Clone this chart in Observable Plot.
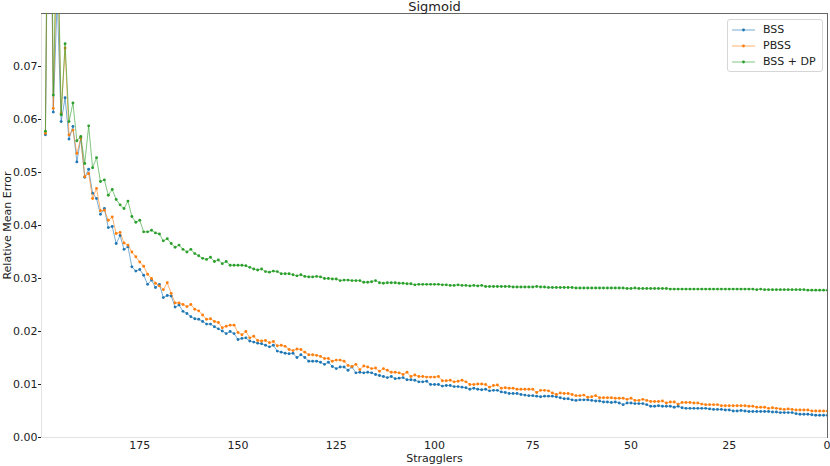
<!DOCTYPE html>
<html><head><meta charset="utf-8">
<script src="https://cdn.jsdelivr.net/npm/d3@7"></script>
<script src="https://cdn.jsdelivr.net/npm/@observablehq/plot@0.6"></script>
<style>
body{margin:0;background:#fff;font-family:"DejaVu Sans",sans-serif;}
#wrap{position:relative;width:830px;height:466px;}
#legend{position:absolute;left:727px;top:19px;width:96px;height:53px;border:1px solid #d6d6d6;border-radius:3px;background:rgba(255,255,255,0.85);font-size:11px;color:#222;box-sizing:border-box;}
.row{position:absolute;left:0;height:14px;width:96px;}
.row svg{position:absolute;left:3px;top:0;}
.row span{position:absolute;left:35px;top:0;line-height:14px;white-space:nowrap;}
</style></head><body><div id="wrap"></div>
<script>
const seriesNames = ["BSS", "PBSS", "BSS + DP"];
const colors = ["#1f77b4", "#ff7f0e", "#2ca02c"];
const stragglers = d3.range(199, -1, -1); // 199 ... 0
const xTicks = [175, 150, 125, 100, 75, 50, 25];
const xTickLast = [0];
const yTicks = [0, 0.01, 0.02, 0.03, 0.04, 0.05, 0.06, 0.07];

const bss = [
0.0571,0.130,0.0614,0.083,0.0596,0.0641,0.0563,0.0587,0.0520,0.0565,
0.0491,0.0506,0.0461,0.0451,0.0421,0.0432,0.0396,0.0398,0.0366,0.0381,
0.0355,0.0360,0.0322,0.0314,0.0317,0.0306,0.0289,0.0297,0.0283,0.0289,
0.0264,0.0268,0.0267,0.0246,0.0250,0.0238,0.0234,0.0228,0.0224,0.0223,
0.0219,0.0214,0.0214,0.0209,0.0205,0.0201,0.0196,0.0200,0.0196,0.0185,
0.0187,0.0188,0.0182,0.0180,0.0178,0.0177,0.0174,0.0171,0.0174,0.0163,
0.0161,0.0159,0.0158,0.0159,0.0151,0.0156,0.0151,0.0144,0.0144,0.0144,
0.0142,0.0138,0.0142,0.0134,0.0130,0.0133,0.0133,0.0127,0.0133,0.0122,
0.0123,0.0122,0.0123,0.0122,0.0119,0.0117,0.0115,0.0113,0.0115,0.0111,
0.0112,0.0113,0.0109,0.0109,0.0108,0.0105,0.0105,0.0106,0.0100,0.0100,
0.0100,0.0097,0.0098,0.0098,0.0096,0.0096,0.0095,0.0094,0.0091,0.0093,
0.0091,0.0090,0.0091,0.0088,0.0089,0.0089,0.0086,0.0085,0.0083,0.0083,
0.0083,0.0081,0.0080,0.0079,0.0079,0.0078,0.0077,0.0078,0.0078,0.0078,
0.0077,0.0075,0.0073,0.0073,0.0071,0.0070,0.0071,0.0071,0.0071,0.0070,
0.0069,0.0069,0.0067,0.0067,0.0066,0.0067,0.0065,0.0062,0.0065,0.0065,
0.0064,0.0064,0.0064,0.0062,0.0059,0.0059,0.0060,0.0059,0.0059,0.0059,
0.0057,0.0059,0.0056,0.0055,0.0055,0.0055,0.0055,0.0055,0.0055,0.0054,
0.0053,0.0053,0.0053,0.0052,0.0052,0.0050,0.0050,0.0051,0.0050,0.0049,
0.0049,0.0049,0.0049,0.0049,0.0049,0.0048,0.0048,0.0047,0.0047,0.0047,
0.0047,0.0045,0.0044,0.0044,0.0044,0.0043,0.0042,0.0042,0.0042,0.0042
];

const pbss = [
0.0574,0.140,0.0621,0.095,0.0611,0.0735,0.0571,0.0580,0.0536,0.0565,
0.0492,0.0498,0.0451,0.0470,0.0428,0.0429,0.0410,0.0416,0.0385,0.0387,
0.0367,0.0363,0.0350,0.0341,0.0331,0.0323,0.0308,0.0300,0.0291,0.0286,
0.0279,0.0292,0.0272,0.0254,0.0254,0.0251,0.0247,0.0251,0.0242,0.0239,
0.0231,0.0223,0.0224,0.0219,0.0217,0.0207,0.0210,0.0212,0.0212,0.0198,
0.0194,0.0200,0.0188,0.0191,0.0183,0.0182,0.0183,0.0179,0.0181,0.0173,
0.0174,0.0172,0.0166,0.0164,0.0167,0.0166,0.0161,0.0156,0.0156,0.0155,
0.0153,0.0149,0.0149,0.0144,0.0146,0.0146,0.0144,0.0136,0.0134,0.0138,
0.0128,0.0135,0.0133,0.0130,0.0131,0.0125,0.0130,0.0127,0.0123,0.0123,
0.0122,0.0119,0.0123,0.0115,0.0118,0.0115,0.0115,0.0114,0.0114,0.0114,
0.0115,0.0107,0.0107,0.0108,0.0105,0.0106,0.0108,0.0105,0.0100,0.0100,
0.0101,0.0101,0.0100,0.0095,0.0098,0.0099,0.0093,0.0094,0.0093,0.0093,
0.0091,0.0091,0.0091,0.0091,0.0091,0.0085,0.0089,0.0089,0.0088,0.0084,
0.0081,0.0084,0.0083,0.0083,0.0081,0.0079,0.0079,0.0080,0.0076,0.0077,
0.0079,0.0075,0.0075,0.0075,0.0075,0.0074,0.0074,0.0074,0.0072,0.0074,
0.0070,0.0070,0.0072,0.0070,0.0068,0.0068,0.0068,0.0069,0.0065,0.0067,
0.0067,0.0063,0.0066,0.0066,0.0066,0.0065,0.0065,0.0063,0.0062,0.0062,
0.0062,0.0062,0.0060,0.0060,0.0060,0.0060,0.0060,0.0060,0.0060,0.0059,
0.0059,0.0057,0.0057,0.0057,0.0055,0.0056,0.0055,0.0054,0.0053,0.0054,
0.0053,0.0052,0.0052,0.0052,0.0052,0.0050,0.0050,0.0050,0.0050,0.0050
];

const bssDp = [
0.0578,0.150,0.0646,0.100,0.0609,0.0743,0.0596,0.0631,0.0560,0.0568,
0.0517,0.0588,0.0509,0.0528,0.0483,0.0486,0.0457,0.0468,0.0449,0.0439,
0.0432,0.0446,0.0417,0.0406,0.0410,0.0388,0.0388,0.0391,0.0386,0.0384,
0.0371,0.0375,0.0366,0.0359,0.0363,0.0355,0.0350,0.0355,0.0347,0.0343,
0.0338,0.0336,0.0340,0.0332,0.0335,0.0328,0.0332,0.0325,0.0325,0.0325,
0.0325,0.0324,0.0321,0.0318,0.0316,0.0318,0.0313,0.0312,0.0314,0.0313,
0.0309,0.0309,0.0309,0.0307,0.0305,0.0307,0.0304,0.0303,0.0303,0.0304,
0.0303,0.0300,0.0300,0.0299,0.0299,0.0296,0.0297,0.0297,0.0296,0.0296,
0.0296,0.0293,0.0293,0.0294,0.0296,0.0292,0.0291,0.0292,0.0292,0.0292,
0.0291,0.0291,0.0290,0.0290,0.0288,0.0289,0.0289,0.0289,0.0289,0.0289,
0.0289,0.0288,0.0288,0.0287,0.0287,0.0288,0.0287,0.0287,0.0286,0.0287,
0.0286,0.0287,0.0285,0.0285,0.0285,0.0285,0.0285,0.0285,0.0285,0.0284,
0.0284,0.0284,0.0284,0.0284,0.0284,0.0285,0.0284,0.0284,0.0283,0.0283,
0.0283,0.0283,0.0283,0.0283,0.0283,0.0282,0.0282,0.0282,0.0282,0.0282,
0.0282,0.0282,0.0282,0.0282,0.0282,0.0282,0.0282,0.0282,0.0281,0.0281,
0.0282,0.0281,0.0281,0.0281,0.0281,0.0281,0.0281,0.0281,0.0281,0.0280,
0.0280,0.0280,0.0280,0.0280,0.0280,0.0280,0.0280,0.0280,0.0280,0.0280,
0.0280,0.0280,0.0280,0.0280,0.0280,0.0280,0.0280,0.0280,0.0280,0.0280,
0.0280,0.0279,0.0280,0.0279,0.0279,0.0279,0.0279,0.0279,0.0279,0.0279,
0.0279,0.0279,0.0279,0.0279,0.0278,0.0278,0.0278,0.0278,0.0278,0.0278
];

const seriesValues = [bss, pbss, bssDp];
const data = seriesNames.map((name, i) =>
  seriesValues[i].map((v, j) => ({s: stragglers[j], v, series: name}))
);

const seriesMarks = data.flatMap((d) => [
  Plot.line(d, {x: "s", y: "v", stroke: "series", strokeWidth: 1, strokeOpacity: 0.6, clip: true}),
  Plot.dot(d, {x: "s", y: "v", fill: "series", r: 1.45, clip: true})
]);

const chart = Plot.plot({
  width: 830,
  height: 466,
  marginTop: 13,
  marginRight: 3,
  marginBottom: 29,
  marginLeft: 41,
  style: {fontFamily: "DejaVu Sans, sans-serif", fontSize: "11px", color: "#222", background: "#fff"},
  x: {domain: [200, 0]},
  y: {domain: [0, 0.08]},
  color: {domain: seriesNames, range: colors},
  marks: [
    Plot.frame({stroke: "#e3e3e3"}),
    Plot.frame({anchor: "top", stroke: "#666"}),
    Plot.frame({anchor: "right", stroke: "#666"}),
    Plot.axisX({ticks: xTicks, tickSize: 0, tickPadding: 4, label: "Stragglers", labelAnchor: "center", labelArrow: "none", labelOffset: 24, fontSize: 11}),
    Plot.axisX({ticks: xTickLast, tickSize: 0, tickPadding: 4, textAnchor: "end", dx: 3, label: null, fontSize: 11}),
    Plot.axisY({ticks: yTicks, tickFormat: ".2f", tickSize: 3, tickPadding: 1, label: "Relative Mean Error", labelAnchor: "center", labelArrow: "none", labelOffset: 38, fontSize: 11}),
    ...seriesMarks,
    Plot.text(["Sigmoid"], {frameAnchor: "top", lineAnchor: "bottom", dy: -3, fontSize: 13, fill: "#222"})
  ]
});

const wrap = document.getElementById("wrap");
wrap.appendChild(chart);

const legend = document.createElement("div");
legend.id = "legend";
const rowTops = [3, 19, 35];
seriesNames.forEach((name, i) => {
  const row = document.createElement("div");
  row.className = "row";
  row.style.top = rowTops[i] + "px";
  row.innerHTML = `<svg width="26" height="14"><line x1="1" x2="24" y1="7" y2="7" stroke="${colors[i]}" stroke-opacity="0.6" stroke-width="1"/><circle cx="12.5" cy="7" r="1.45" fill="${colors[i]}"/></svg><span>${name}</span>`;
  legend.appendChild(row);
});
wrap.appendChild(legend);
</script>
</body></html>
